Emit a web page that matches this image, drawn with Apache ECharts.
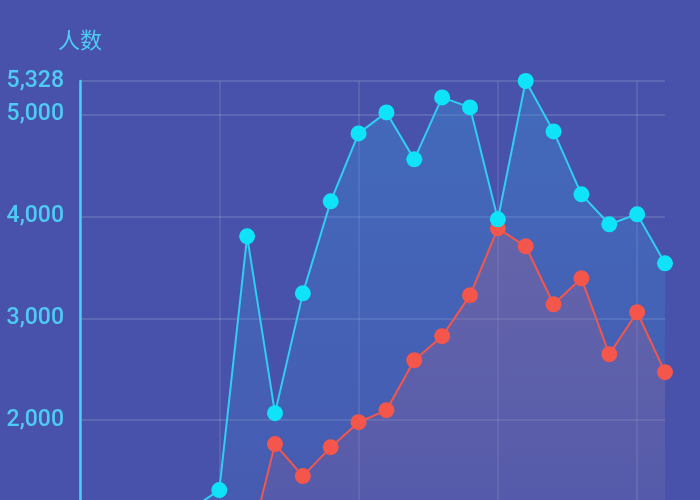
<!DOCTYPE html>
<html>
<head>
<meta charset="utf-8">
<script src="https://cdn.jsdelivr.net/npm/echarts@6/dist/echarts.min.js"></script>
<style>
  html, body { margin: 0; padding: 0; background: #4852aa; overflow: hidden; }
  /* 图表比窗口高，底部（0 刻度与横轴）在画面之外 */
  #main { width: 700px; height: 660px; }
</style>
</head>
<body>
<div id="main"></div>
<script>
// 横轴 22 个点（底部标签在画面之外）
var days = ['1日','2日','3日','4日','5日','6日','7日','8日','9日','10日','11日',
            '12日','13日','14日','15日','16日','17日','18日','19日','20日','21日','22日'];
var totalCount = [820, 900, 960, 1040, 1130, 1314, 3804, 2069, 3245, 4147, 4814,
                  5020, 4559, 5167, 5069, 3971, 5328, 4833, 4216, 3922, 4020, 3539];
var newCount = [320, 380, 430, 480, 540, 600, 670, 1765, 1451, 1735, 1980,
                2098, 2588, 2824, 3225, 3882, 3706, 3137, 3392, 2647, 3059, 2471];

var chart = echarts.init(document.getElementById('main'));

var labelColor = '#4ecbf4';
var option = {
    backgroundColor: '#4852aa',
    animation: false,
    grid: {
        left: 80,
        right: 35,
        top: 81,
        bottom: 36
    },
    xAxis: {
        type: 'category',
        data: days,
        boundaryGap: false,
        axisLine: { show: false },
        axisTick: { show: false },
        axisLabel: { show: false },
        splitLine: {
            show: true,
            interval: 4,
            lineStyle: { color: 'rgba(255,255,255,0.1)', width: 2 }
        }
    },
    yAxis: {
        type: 'value',
        name: '人数',
        nameGap: 30,
        nameTextStyle: {
            color: labelColor,
            fontSize: 22,
            fontFamily: 'Noto Sans CJK SC'
        },
        min: 0,
        max: 'dataMax',
        interval: 1000,
        axisLine: {
            show: true,
            lineStyle: { color: labelColor, width: 2.5 }
        },
        axisTick: { show: false },
        axisLabel: {
            color: labelColor,
            fontSize: 23,
            fontWeight: 500,
            fontFamily: 'Roboto',
            margin: 16,
            showMaxLabel: true
        },
        splitLine: {
            lineStyle: { color: 'rgba(255,255,255,0.12)', width: 2 }
        }
    },
    series: [
        {
            name: '新增',
            type: 'line',
            data: newCount,
            symbol: 'circle',
            symbolSize: 16,
            itemStyle: { color: '#f4564c' },
            lineStyle: { color: '#f4564c', width: 2 },
            areaStyle: {
                color: new echarts.graphic.LinearGradient(0, 0, 0, 1, [
                    { offset: 0, color: 'rgba(214,80,110,0.45)' },
                    { offset: 1, color: 'rgba(214,80,110,0.05)' }
                ])
            }
        },
        {
            name: '总数',
            type: 'line',
            data: totalCount,
            symbol: 'circle',
            symbolSize: 16,
            itemStyle: { color: '#0fe3f8' },
            lineStyle: { color: '#30cdf4', width: 2 },
            areaStyle: {
                color: new echarts.graphic.LinearGradient(0, 0, 0, 1, [
                    { offset: 0, color: 'rgba(56,150,220,0.5)' },
                    { offset: 1, color: 'rgba(56,150,220,0.1)' }
                ])
            }
        }
    ]
};

chart.setOption(option);
</script>
</body>
</html>
